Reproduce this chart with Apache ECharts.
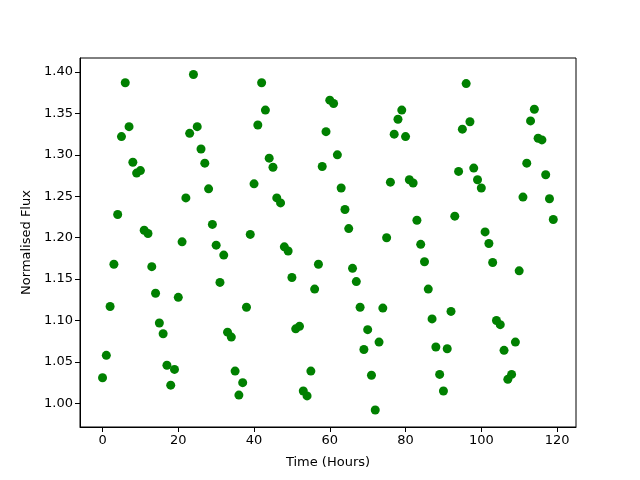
<!DOCTYPE html>
<html>
<head>
<meta charset="utf-8">
<script src="https://cdn.jsdelivr.net/npm/echarts@6/dist/echarts.min.js"></script>
<style>html,body{margin:0;padding:0;background:#fff}#c{width:640px;height:480px}</style>
</head>
<body>
<div id="c"></div>
<script>
const hours = Array.from({length:120},(_,i)=>i);
const flux = [
1.031,1.058,1.117,1.168,1.228,1.322,1.387,1.334,1.291,1.278,
1.281,1.209,1.205,1.165,1.133,1.097,1.084,1.046,1.022,1.041,
1.128,1.195,1.248,1.326,1.397,1.334,1.307,1.290,1.259,1.216,
1.191,1.146,1.179,1.086,1.080,1.039,1.010,1.025,1.116,1.204,
1.265,1.336,1.387,1.354,1.296,1.285,1.248,1.242,1.189,1.184,
1.152,1.090,1.093,1.015,1.009,1.039,1.138,1.168,1.286,1.328,
1.366,1.362,1.300,1.260,1.234,1.211,1.163,1.147,1.116,1.065,
1.089,1.034,0.992,1.074,1.115,1.200,1.267,1.325,1.343,1.354,
1.322,1.270,1.266,1.221,1.192,1.171,1.138,1.102,1.068,1.035,
1.015,1.066,1.111,1.226,1.280,1.331,1.386,1.340,1.284,1.270,
1.260,1.207,1.193,1.170,1.100,1.095,1.064,1.029,1.035,1.074,
1.160,1.249,1.290,1.341,1.355,1.320,1.318,1.276,1.247,1.222
];
const xTicks = [0,20,40,60,80,100,120];
const yTicks = [1.00,1.05,1.10,1.15,1.20,1.25,1.30,1.35,1.40];

const chart = echarts.init(document.getElementById('c'));
const font = 'DejaVu Sans';
chart.setOption({
  animation:false,
  grid:{left:80,right:64,top:58,bottom:53,show:true,borderColor:'#000',borderWidth:1,backgroundColor:'transparent'},
  xAxis:{
    type:'value', min:-5.95, max:125,
    name:'Time (Hours)', nameLocation:'middle', nameGap:29,
    nameTextStyle:{color:'#000',fontFamily:font,fontSize:13},
    axisLine:{show:true,onZero:false,lineStyle:{color:'#000',width:1}},
    axisTick:{show:true,inside:false,length:5,lineStyle:{color:'#000'},customValues:xTicks},
    axisLabel:{color:'#000',fontFamily:font,fontSize:13,margin:7,customValues:xTicks},
    splitLine:{show:false}
  },
  yAxis:{
    type:'value', min:0.9715, max:1.4169,
    name:'Normalised Flux', nameLocation:'middle', nameGap:47,
    nameTextStyle:{color:'#000',fontFamily:font,fontSize:13},
    axisLine:{show:true,onZero:false,lineStyle:{color:'#000',width:1}},
    axisTick:{show:true,inside:false,length:5,lineStyle:{color:'#000'},customValues:yTicks},
    axisLabel:{color:'#000',fontFamily:font,fontSize:13,margin:7,customValues:yTicks,formatter:v=>v.toFixed(2)},
    splitLine:{show:false}
  },
  series:[{
    type:'scatter',
    data:hours.map((h,i)=>[h,flux[i]]),
    symbolSize:9,
    itemStyle:{color:'#008000',opacity:1}
  }]
});
</script>
</body>
</html>
